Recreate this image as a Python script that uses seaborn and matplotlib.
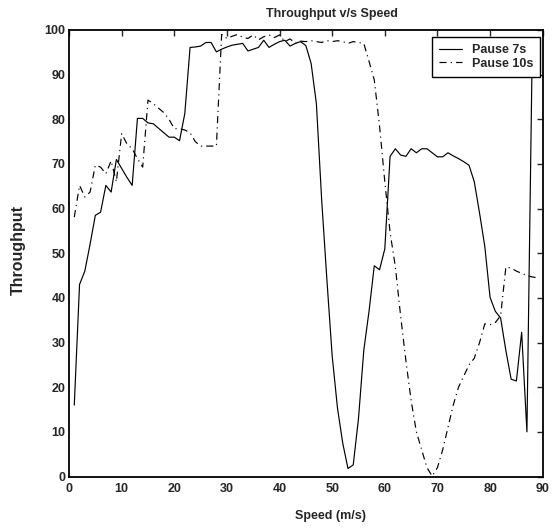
import matplotlib
matplotlib.use("Agg")
import matplotlib.pyplot as plt
import numpy as np
import pandas as pd
import seaborn as sns

# Speed samples (m/s)
speed_7s = list(range(1, 89))
speed_10s = list(range(1, 90))

# Throughput for pause time 7 s
throughput_7s = [
    16, 43, 46, 52, 58.5, 59.2, 65.2, 63.7, 71, 69,
    67, 65.2, 80.2, 80.2, 79.2, 79, 78, 77, 76, 76,
    75.2, 81.3, 96.1, 96.2, 96.4, 97.2, 97.2, 95.1, 95.7, 96.2,
    96.6, 96.8, 97, 95.3, 95.7, 96.1, 97.7, 96.1, 96.8, 97.4,
    97.7, 96.4, 97, 97.4, 96.5, 92.5, 83.5, 62, 44, 27,
    15.4, 7.5, 1.8, 2.6, 13, 28.2, 37, 47.2, 46.3, 51,
    71.7, 73.4, 72, 71.7, 73.4, 72.5, 73.4, 73.4, 72.5, 71.6,
    71.6, 72.5, 71.8, 71.2, 70.5, 69.7, 66, 59, 51.5, 40.1,
    37, 35.5, 28.2, 21.8, 21.4, 32.3, 10, 95,
]

# Throughput for pause time 10 s
throughput_10s = [
    58.1, 65.2, 62.6, 63.7, 69.7, 69.3, 67.8, 70.7, 66, 76.8,
    74.5, 73.4, 71.2, 69.3, 84.3, 83.5, 82.5, 81.5, 80, 77.9,
    77.9, 77.6, 77, 75, 74, 74, 74, 74, 99, 98.1,
    98.6, 99, 98.4, 98.1, 98.9, 97.8, 98.5, 98.9, 98.3, 98.9,
    97.4, 98, 97, 97.5, 97.4, 97.6, 97.4, 97.2, 97.6, 97.4,
    97.6, 97.4, 97, 97.4, 97.2, 97, 93, 88.8, 78.5, 66,
    54.7, 47, 36, 26, 17, 10, 6, 2, 0.1, 2,
    6, 11, 16, 20, 22.5, 25, 26.5, 30, 34.2, 34,
    34.5, 36, 46.9, 46.7, 46, 45.5, 45, 44.7, 44.5,
]

df7 = pd.DataFrame({"Speed": speed_7s, "Throughput": throughput_7s})
df10 = pd.DataFrame({"Speed": speed_10s, "Throughput": throughput_10s})

sns.set_style("white")
plt.rcParams["font.family"] = ["Liberation Sans", "DejaVu Sans"]
plt.rcParams["font.weight"] = "bold"

fig = plt.figure(figsize=(5.53, 5.29), dpi=100)
ax = fig.add_axes([0.1248, 0.0992, 0.8566, 0.8441])

sns.lineplot(data=df7, x="Speed", y="Throughput", ax=ax, color="black",
             linewidth=0.85, linestyle="-", label="Pause 7s")
sns.lineplot(data=df10, x="Speed", y="Throughput", ax=ax, color="black",
             linewidth=0.85, linestyle=(0, (6, 3.5, 1, 3.5)), label="Pause 10s")

ax.set_xlim(0, 90)
ax.set_ylim(0, 100)
ax.set_xticks(np.arange(0, 91, 10))
ax.set_yticks(np.arange(0, 101, 10))
ax.tick_params(axis="both", direction="in", length=4, width=1,
               labelsize=9, top=True, right=True)
ax.tick_params(axis="x", pad=5)
ax.tick_params(axis="y", pad=2.5)
for lbl in ax.get_xticklabels() + ax.get_yticklabels():
    lbl.set_fontweight("bold")
for sp in ax.spines.values():
    sp.set_visible(True)
    sp.set_color("black")
    sp.set_linewidth(1.3)

ax.set_title("Throughput v/s Speed", fontsize=9, fontweight="bold", pad=9)
ax.title.set_x(0.554)
ax.set_xlabel("Speed (m/s)", fontsize=9, fontweight="bold")
ax.xaxis.set_label_coords(0.553, -0.074)
ax.set_ylabel("Throughput", fontsize=11.5, fontweight="bold")
ax.yaxis.set_label_coords(-0.092, 0.507)

leg = ax.legend(loc="upper right", bbox_to_anchor=(0.9943, 0.9837),
                borderaxespad=0, fontsize=9, frameon=True, fancybox=False,
                handlelength=1.8, borderpad=0.55, labelspacing=0.12,
                handletextpad=0.8)
leg.get_frame().set_edgecolor("black")
leg.get_frame().set_linewidth(1.0)
leg.get_frame().set_alpha(1)
for t in leg.get_texts():
    t.set_fontweight("bold")

fig.savefig("out.png", dpi=100, facecolor="white")
